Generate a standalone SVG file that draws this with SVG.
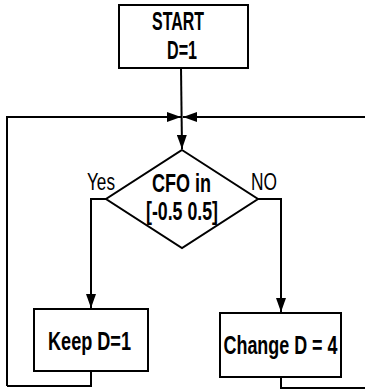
<svg xmlns="http://www.w3.org/2000/svg" width="365" height="392" viewBox="0 0 365 392">
<style>
.box{fill:#fff;stroke:#000;stroke-width:2}
.ln{fill:none;stroke:#000;stroke-width:2}
.t{font-family:"Liberation Sans",Arial,sans-serif;font-weight:bold;font-size:25px;fill:#000;text-anchor:middle}
.lbl{font-family:"Liberation Sans",Arial,sans-serif;font-size:24px;fill:#000;text-anchor:middle}
</style>
<defs>
<marker id="ah" viewBox="0 0 14 10" refX="14" refY="5" markerWidth="14" markerHeight="10" markerUnits="userSpaceOnUse" orient="auto">
<path d="M0,0 L14,5 L0,10 Z" fill="#000"/>
</marker>
</defs>
<g id="connectors">
<path class="ln" d="M181,68 L182,149" marker-end="url(#ah)"/>
<path class="ln" d="M7,386 L7,117 L181,117" marker-end="url(#ah)"/>
<path class="ln" d="M365,117 L183,117" marker-end="url(#ah)"/>
<path class="ln" d="M91,370 L91,386 L7,386"/>
<path class="ln" d="M106,199 L91,199 L91,308" marker-end="url(#ah)"/>
<path class="ln" d="M258,199 L281,199 L281,312" marker-end="url(#ah)"/>
<path class="ln" d="M281,377 L281,388 L365,388"/>
</g>
<g id="start">
<rect class="box" x="119" y="5" width="129" height="63"/>
<text class="t" x="178" y="30" textLength="52" lengthAdjust="spacingAndGlyphs">START</text>
<text class="t" x="182" y="59" textLength="30" lengthAdjust="spacingAndGlyphs">D=1</text>
</g>
<g id="decision">
<polygon class="box" points="182,150 258,199 182,248 106,199"/>
<text class="t" x="181.5" y="192" textLength="59" lengthAdjust="spacingAndGlyphs">CFO in</text>
<text class="t" x="182" y="220" textLength="72" lengthAdjust="spacingAndGlyphs">[-0.5 0.5]</text>
</g>
<g id="yes-label"><text class="lbl" x="101" y="190" textLength="28" lengthAdjust="spacingAndGlyphs">Yes</text></g>
<g id="no-label"><text class="lbl" x="264" y="190" textLength="26" lengthAdjust="spacingAndGlyphs">NO</text></g>
<g id="keep">
<rect class="box" x="34" y="309" width="114" height="62"/>
<text class="t" x="89.5" y="350" textLength="83" lengthAdjust="spacingAndGlyphs">Keep D=1</text>
</g>
<g id="change">
<rect class="box" x="220" y="313" width="121" height="64"/>
<text class="t" x="280.5" y="354" textLength="114" lengthAdjust="spacingAndGlyphs">Change D = 4</text>
</g>
</svg>
